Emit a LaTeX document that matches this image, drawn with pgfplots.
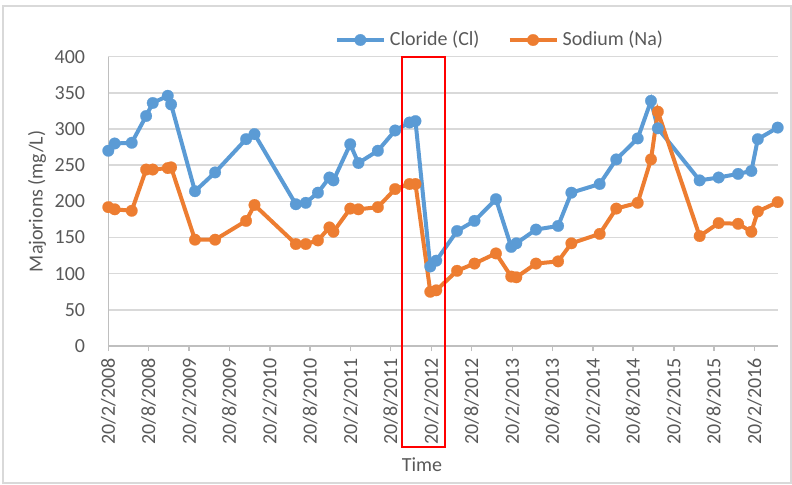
\documentclass[border=0pt]{standalone}
\usepackage{fontspec}
\setmainfont{Carlito}
\usepackage{pgfplots}
\usepackage{pgfplotstable}
\pgfplotsset{compat=1.18}
\definecolor{clblue}{HTML}{5B9BD5}
\definecolor{naorange}{HTML}{ED7D31}
\definecolor{txtgray}{HTML}{595959}
\definecolor{gridgray}{HTML}{D9D9D9}
\definecolor{axgray}{HTML}{BFBFBF}

% days since 20/2/2008, chloride, sodium (mg/L)
\pgfplotstableread{
day cl na
0 270 192
29 280 189
106 281 187
171 318 244
201 336 244
269 346 246
284 334 247
392 214 147
483 240 147
623 286 173
661 293 195
848 196 141
893 198 141
948 212 146
1000 233 164
1018 229 158
1094 279 190
1131 253 189
1219 270 192
1297 298 217
1362 309 224
1389 311 224
1456 110 75
1483 118 77
1577 159 104
1656 173 114
1753 203 128
1822 137 96
1845 142 95
1934 161 114
2034 166 117
2094 212 142
2222 224 155
2297 258 190
2394 287 198
2454 339 258
2485 301 324
2674 229 152
2760 233 170
2848 238 169
2908 242 158
2937 286 186
3027 302 199
}\ions

\begin{document}
\begin{tikzpicture}[font=\fontsize{10}{12}\selectfont]
\begin{axis}[
  scale only axis,
  width=334.7pt, height=144.65pt,
  xmin=0, xmax=3027, ymin=0, ymax=400,
  clip=false,
  ytick={0,50,...,400},
  xtick={0,182,366,547,731,912,1096,1277,1461,1643,1827,2008,2192,2373,2557,2738,2922},
  xticklabels={20/2/2008,20/8/2008,20/2/2009,20/8/2009,20/2/2010,20/8/2010,20/2/2011,20/8/2011,
    20/2/2012,20/8/2012,20/2/2013,20/8/2013,20/2/2014,20/8/2014,20/2/2015,20/8/2015,20/2/2016},
  x tick label style={rotate=90, anchor=east, text=txtgray},
  y tick label style={text=txtgray, xshift=-5.6pt},
  /pgf/number format/assume math mode=true,
  axis x line*=bottom, axis y line*=left,
  axis line style={axgray, line width=0.75pt, -},
  xtick style={axgray, line width=0.75pt},
  ytick style={draw=none},
  tick align=outside,
  major tick length=2.5pt,
  ymajorgrids,
  grid style={gridgray, line width=0.75pt},
  xlabel={Time},
  xlabel style={at={(axis description cs:0.4686,-0.4113)}, anchor=center, text=txtgray},
  ylabel={Majorions (mg/L)},
  ylabel style={at={(axis description cs:-0.1065,0.5)}, anchor=center, text=txtgray},
  legend columns=2,
  legend style={at={(0.5866,1.0577)}, anchor=center, draw=none, fill=none,
    text=txtgray, /tikz/every even column/.append style={column sep=12pt}},
  legend image code/.code={\draw[#1, mark repeat=2, mark phase=2]
    plot coordinates {(0pt,0pt) (11.75pt,0pt) (23.5pt,0pt)};},
]
\addplot[clblue, line width=2pt, mark=*, mark size=2.9pt,
  mark options={solid, fill=clblue, draw=clblue, line width=0.1pt}]
  table[x=day, y=cl]{\ions};
\addlegendentry{Cloride (Cl)}
\addplot[naorange, line width=2pt, mark=*, mark size=2.9pt,
  mark options={solid, fill=naorange, draw=naorange, line width=0.1pt}]
  table[x=day, y=na]{\ions};
\addlegendentry{Sodium (Na)}
% highlighted period
\draw[red, line width=0.8pt] (axis cs:1328,399.2) rectangle ([yshift=-50.35pt]axis cs:1522,0);
\end{axis}
\draw[gridgray, line width=0.75pt] (-52.65pt,170pt) rectangle (341.35pt,-68.5pt);
\pgfresetboundingbox
\path[use as bounding box] (-54.15pt,-69pt) rectangle (341.85pt,173pt);
\end{tikzpicture}
\end{document}
